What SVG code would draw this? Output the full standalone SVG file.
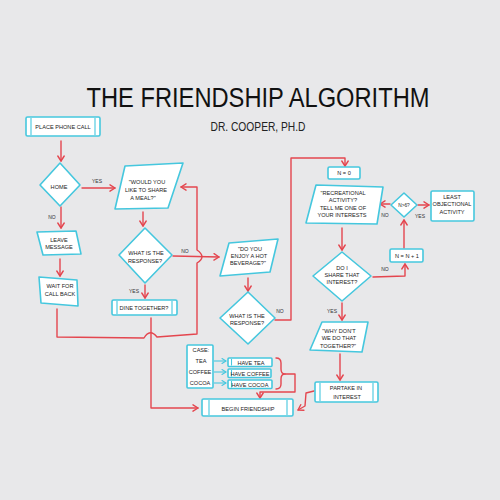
<svg xmlns="http://www.w3.org/2000/svg" width="500" height="500" viewBox="0 0 500 500">
<defs>
<style>
.bx{fill:#fff;stroke:#45c7de;stroke-width:1.6;stroke-linejoin:round}
.in{fill:none;stroke:#45c7de;stroke-width:1.1}
.r{fill:none;stroke:#e4464f;stroke-width:1.4;stroke-linejoin:round;stroke-linecap:round}
.c{fill:none;stroke:#45c7de;stroke-width:1.1}
.t{font-family:"Liberation Sans",Arial,sans-serif;font-size:5.6px;fill:#222;text-anchor:middle}
.l{font-family:"Liberation Sans",Arial,sans-serif;font-size:5px;fill:#333;text-anchor:middle}
</style>
<marker id="ar" markerWidth="8" markerHeight="8" refX="6" refY="4" orient="auto" markerUnits="userSpaceOnUse">
<path d="M1,0.8 L6,4 L1,7.2" fill="none" stroke="#e4464f" stroke-width="1.4" stroke-linecap="round" stroke-linejoin="round"/>
</marker>
<marker id="ac" markerWidth="8" markerHeight="8" refX="6" refY="4" orient="auto" markerUnits="userSpaceOnUse">
<path d="M2,1.5 L6,4 L2,6.5" fill="none" stroke="#45c7de" stroke-width="1.1" stroke-linecap="round"/>
</marker>
</defs>
<rect width="500" height="500" fill="#e8e8ea"/>
<text x="258" y="107" font-family="Liberation Sans,Arial,sans-serif" font-size="27" fill="#111" text-anchor="middle" textLength="343" lengthAdjust="spacingAndGlyphs">THE FRIENDSHIP ALGORITHM</text>
<text x="258" y="131" font-family="Liberation Sans,Arial,sans-serif" font-size="13" fill="#222" text-anchor="middle" textLength="95" lengthAdjust="spacingAndGlyphs">DR. COOPER, PH.D</text>

<g id="connectors">
<path class="r" d="M61,141 L61,161" marker-end="url(#ar)"/>
<path class="r" d="M82,188 L115,188" marker-end="url(#ar)"/>
<path class="r" d="M61,207 L61,228" marker-end="url(#ar)"/>
<path class="r" d="M60,259 L60,276" marker-end="url(#ar)"/>
<path class="r" d="M143,212 L143,226" marker-end="url(#ar)"/>
<path class="r" d="M173,256 L219,257" marker-end="url(#ar)"/>
<path class="r" d="M145,285 L145,298" marker-end="url(#ar)"/>
<path class="r" d="M248,278 L248,291" marker-end="url(#ar)"/>
<path class="r" d="M57,309 L57,337 L144,338 Q150,328 157,337 L197,334 L197,263 Q207,257 197,250 L197,187 L181,187" marker-end="url(#ar)"/>
<path class="r" d="M151,318 L151,408 L198,408" marker-end="url(#ar)"/>
<path class="r" d="M275,320 L291,320 L291,158 L345,158 L345,166" marker-end="url(#ar)"/>
<path class="r" d="M342,228 L342,250" marker-end="url(#ar)"/>
<path class="r" d="M373,277 L405,276 L405,264" marker-end="url(#ar)"/>
<path class="r" d="M404,248 L404,220" marker-end="url(#ar)"/>
<path class="r" d="M390,204 L380,204" marker-end="url(#ar)"/>
<path class="r" d="M418,205 L429,205" marker-end="url(#ar)"/>
<path class="r" d="M342,303 L342,320" marker-end="url(#ar)"/>
<path class="r" d="M340,354 L340,380" marker-end="url(#ar)"/>
<path class="r" d="M314,391 L306,393 L305,406 L298,410" marker-end="url(#ar)"/>
<path class="r" d="M276,358 Q281,358 281,363 L281,369 Q281,374 285,374 Q281,374 281,379 L281,384 Q281,389 276,389"/>
<path class="r" d="M285,374 L295,374 L295,392 L260,392 L260,398" marker-end="url(#ar)"/>
<path class="c" d="M214,361 L226,361" marker-end="url(#ac)"/>
<path class="c" d="M214,372 L226,372" marker-end="url(#ac)"/>
<path class="c" d="M214,383 L226,383" marker-end="url(#ac)"/>
</g>
<g class="l">
<text x="97" y="183">YES</text>
<text x="52" y="219">NO</text>
<text x="185" y="253">NO</text>
<text x="134" y="293">YES</text>
<text x="280" y="313">NO</text>
<text x="385" y="217">NO</text>
<text x="420" y="218">YES</text>
<text x="385" y="271">NO</text>
<text x="332" y="313">YES</text>
</g>

<g id="place-phone-call">
<rect class="bx" x="26" y="117" width="74" height="19" rx="1.5"/>
<path class="in" d="M31,118 L31,135 M95,118 L95,135"/>
<text class="t" x="63" y="129">PLACE PHONE CALL</text>
</g>
<g id="home">
<path class="bx" d="M60,163 L80,185 L60,206 L40,185 Z"/>
<text class="t" x="59" y="189">HOME</text>
</g>
<g id="share-meal">
<path class="bx" d="M125,166 L183,163 L168,208 L115,209 Z"/>
<text class="t" x="147" y="184">"WOULD YOU</text>
<text class="t" x="146" y="192">LIKE TO SHARE</text>
<text class="t" x="143" y="200">A MEAL?"</text>
</g>
<g id="leave-message">
<path class="bx" d="M37,232 L76,231 L81,254 L43,255 Z"/>
<text class="t" x="59" y="242">LEAVE</text>
<text class="t" x="59" y="249">MESSAGE</text>
</g>
<g id="wait-call-back">
<path class="bx" d="M39,277 L77,280 L78,306 L41,303 Z"/>
<text class="t" x="60" y="288">WAIT FOR</text>
<text class="t" x="60" y="296">CALL BACK</text>
</g>
<g id="response-1">
<path class="bx" d="M145,228 L172,255 L145,283 L119,255 Z"/>
<text class="t" x="146" y="255">WHAT IS THE</text>
<text class="t" x="145" y="263">RESPONSE?</text>
</g>
<g id="dine-together">
<rect class="bx" x="112" y="300" width="65" height="15" rx="1.5"/>
<path class="in" d="M117,301 L117,314 M172,301 L172,314"/>
<text class="t" x="144" y="310">DINE TOGETHER?</text>
</g>
<g id="hot-beverage">
<path class="bx" d="M229,243 L278,239 L270,272 L220,276 Z"/>
<text class="t" x="250" y="251">"DO YOU</text>
<text class="t" x="249" y="258">ENJOY A HOT</text>
<text class="t" x="248" y="265">BEVERAGE?"</text>
</g>
<g id="response-2">
<path class="bx" d="M248,292 L275,318 L248,344 L220,318 Z"/>
<text class="t" x="247" y="318">WHAT IS THE</text>
<text class="t" x="247" y="325">RESPONSE?</text>
</g>
<g id="n-zero">
<rect class="bx" x="328" y="167" width="32" height="12" rx="1.5"/>
<text class="t" x="344" y="175">N = 0</text>
</g>
<g id="recreational">
<path class="bx" d="M316,185 L383,187 L377,224 L306,223 Z"/>
<text class="t" x="343" y="195">"RECREATIONAL</text>
<text class="t" x="343" y="202">ACTIVITY?</text>
<text class="t" x="343" y="210">TELL ME ONE OF</text>
<text class="t" x="342" y="217">YOUR INTERESTS</text>
</g>
<g id="share-interest">
<path class="bx" d="M342,252 L371,276 L342,301 L313,276 Z"/>
<text class="t" x="342" y="270">DO I</text>
<text class="t" x="342" y="277">SHARE THAT</text>
<text class="t" x="342" y="284">INTEREST?</text>
</g>
<g id="n-plus-one">
<rect class="bx" x="390" y="249" width="33" height="13" rx="1.5"/>
<text class="t" x="407" y="258">N = N + 1</text>
</g>
<g id="n-gt-6">
<path class="bx" d="M404,193 L417,205 L404,217 L391,205 Z"/>
<text class="t" x="404" y="207" style="font-size:4.8px">N&gt;6?</text>
</g>
<g id="least-objectional">
<rect class="bx" x="431" y="191" width="43" height="30" rx="1.5"/>
<text class="t" x="452" y="199">LEAST</text>
<text class="t" x="452" y="206">OBJECTIONAL</text>
<text class="t" x="452" y="214">ACTIVITY</text>
</g>
<g id="why-dont">
<path class="bx" d="M322,322 L368,322 L362,352 L310,350 Z"/>
<text class="t" x="339" y="333">"WHY DON'T</text>
<text class="t" x="339" y="340">WE DO THAT</text>
<text class="t" x="338" y="348">TOGETHER?"</text>
</g>
<g id="partake">
<rect class="bx" x="315" y="382" width="63" height="20" rx="1.5"/>
<path class="in" d="M320,383 L320,401 M373,383 L373,401"/>
<text class="t" x="346" y="390">PARTAKE IN</text>
<text class="t" x="347" y="399">INTEREST</text>
</g>
<g id="case">
<rect class="bx" x="187" y="345" width="26" height="43" rx="1"/>
<text class="t" x="201" y="352">CASE:</text>
<text class="t" x="201" y="363">TEA</text>
<text class="t" x="200" y="374">COFFEE</text>
<text class="t" x="200" y="385">COCOA</text>
</g>
<g id="have-tea">
<rect class="bx" x="228" y="358" width="44" height="8.5" rx="1"/>
<path class="in" d="M231.5,359 L231.5,365.5"/>
<text class="t" x="251" y="364.5">HAVE TEA</text>
</g>
<g id="have-coffee">
<rect class="bx" x="228" y="369" width="43" height="8.5" rx="1"/>
<path class="in" d="M231.5,370 L231.5,376.5"/>
<text class="t" x="250" y="375.5">HAVE COFFEE</text>
</g>
<g id="have-cocoa">
<rect class="bx" x="228" y="380" width="44" height="8.5" rx="1"/>
<path class="in" d="M231.5,381 L231.5,387.5"/>
<text class="t" x="250" y="386.5">HAVE COCOA</text>
</g>
<g id="begin-friendship">
<rect class="bx" x="202" y="399" width="91" height="17" rx="1.5"/>
<path class="in" d="M209,400 L209,415 M287,400 L287,415"/>
<text class="t" x="248" y="411">BEGIN FRIENDSHIP</text>
</g>
</svg>
